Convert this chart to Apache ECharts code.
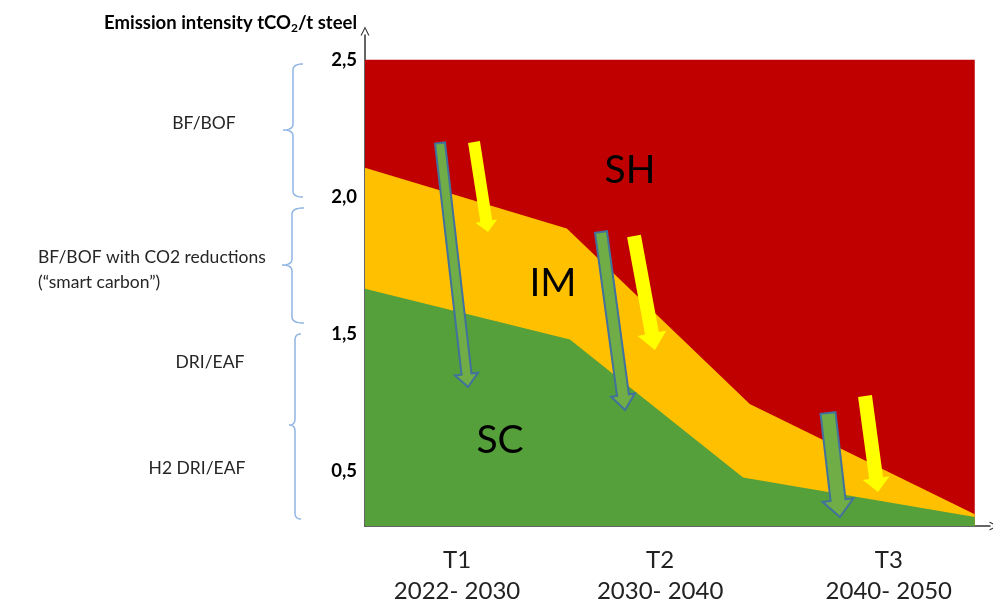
<!DOCTYPE html>
<html>
<head>
<meta charset="utf-8">
<script src="https://cdn.jsdelivr.net/npm/echarts@6/dist/echarts.min.js"></script>
<style>
  html, body { margin: 0; padding: 0; background: #fff; }
  #chart { width: 993px; height: 607px; }
</style>
</head>
<body>
<div id="chart"></div>
<script>
// Emission-intensity pathway bands (tCO2 per tonne of steel) over the three periods.
const xRed = [0, 100];
const yRed = [2.5, 2.5];
const xAmber = [0, 33.1, 63.1, 100];
const yAmber = [2.106, 1.885, 1.245, 0.843];
const xGreen = [0, 33.6, 62.0, 100];
const yGreen = [1.665, 1.48, 0.977, 0.833];

// Tick labels on the vertical axis
const yTickValues = [1.0, 1.5, 2.0, 2.5];
const yTickLabels = ['0,5', '1,5', '2,0', '2,5'];

// Period labels along the horizontal axis
const periodPositions = [15.1, 48.4, 85.9];
const periodNames = ['T1', 'T2', 'T3'];
const periodYears = ['2022- 2030', '2030- 2040', '2040- 2050'];

// Band names
const bandNames = ['SH', 'IM', 'SC'];

// Technology routes shown beside the vertical axis
const routeNames = ['BF/BOF', 'BF/BOF with CO2 reductions\n(\u201csmart carbon\u201d)', 'DRI/EAF', 'H2 DRI/EAF'];

const FONT = 'Lato, "Open Sans", sans-serif';

function pairs(xs, ys) { return xs.map((x, i) => [x, ys[i]]); }

function areaSeries(name, xs, ys, color) {
  return {
    name: name,
    type: 'line',
    data: pairs(xs, ys),
    symbol: 'none',
    silent: true,
    lineStyle: { width: 0 },
    areaStyle: { color: color, opacity: 1, origin: 'start' }
  };
}

// open chevron used as the axis arrow head (tip at top before rotation)
const chevron = 'path://M0,10 L5,0 L10,10 L8.6,10 L5,2.6 L1.4,10 Z';

const chart = echarts.init(document.getElementById('chart'), null, { renderer: 'canvas' });

chart.setOption({
  animation: false,
  backgroundColor: '#ffffff',
  textStyle: { fontFamily: FONT },
  title: {
    left: 99,
    top: 8,
    text: '{a|Emission intensity tCO}{s|2}{a|/t steel}',
    textStyle: {
      rich: {
        a: { fontFamily: FONT, fontWeight: 'bold', fontSize: 18.5, color: '#000' },
        s: { fontFamily: FONT, fontWeight: 'bold', fontSize: 12, color: '#000', padding: [9, 0, 0, 0] }
      }
    }
  },
  grid: { left: 365, right: 3, top: 35, bottom: 77 },
  xAxis: {
    type: 'value',
    min: 0,
    max: 102.5,
    splitLine: { show: false },
    axisTick: { show: false },
    axisLine: {
      show: true,
      lineStyle: { color: '#333', width: 1.5 },
      symbol: ['none', chevron],
      symbolSize: [14, 9],
      symbolOffset: [0, 4]
    },
    axisLabel: {
      customValues: periodPositions,
      margin: 19,
      lineHeight: 31,
      fontSize: 24,
      fontFamily: FONT,
      color: '#222',
      formatter: function (v) {
        const i = periodPositions.indexOf(v);
        return i < 0 ? '' : periodNames[i] + '\n' + periodYears[i];
      }
    }
  },
  yAxis: {
    type: 'value',
    min: 0.8,
    max: 2.59,
    splitLine: { show: false },
    axisTick: { show: false },
    axisLine: {
      show: true,
      lineStyle: { color: '#333', width: 1.5 },
      symbol: ['none', chevron],
      symbolSize: [14, 9],
      symbolOffset: [0, 4]
    },
    axisLabel: {
      customValues: yTickValues,
      margin: 8,
      fontSize: 18.5,
      fontWeight: 'bold',
      fontFamily: FONT,
      color: '#000',
      padding: [6, 0, 0, 0],
      formatter: function (v) {
        const i = yTickValues.indexOf(v);
        return i < 0 ? '' : yTickLabels[i];
      }
    }
  },
  series: [
    areaSeries('SH', xRed, yRed, '#C00000'),
    areaSeries('IM', xAmber, yAmber, '#FFC000'),
    areaSeries('SC', xGreen, yGreen, '#55A03A')
  ]
});

// ---- annotations: band names, transition arrows, route braces ----
function arrowPoints(x1, y1, x2, y2, w, hw, hl) {
  const dx = x2 - x1, dy = y2 - y1;
  const len = Math.sqrt(dx * dx + dy * dy);
  const ux = dx / len, uy = dy / len;
  const nx = -uy, ny = ux;
  const bx = x2 - ux * hl, by = y2 - uy * hl;
  return [
    [x1 + nx * w / 2, y1 + ny * w / 2],
    [bx + nx * w / 2, by + ny * w / 2],
    [bx + nx * hw / 2, by + ny * hw / 2],
    [x2, y2],
    [bx - nx * hw / 2, by - ny * hw / 2],
    [bx - nx * w / 2, by - ny * w / 2],
    [x1 - nx * w / 2, y1 - ny * w / 2]
  ];
}

// quadratic curve sampled into points
function quad(p0, c, p1, out) {
  for (let k = 1; k <= 8; k++) {
    const t = k / 8, u = 1 - t;
    out.push([u * u * p0[0] + 2 * u * t * c[0] + t * t * p1[0],
              u * u * p0[1] + 2 * u * t * c[1] + t * t * p1[1]]);
  }
}

function bracePoints(xEnd, xLine, xCusp, yTop, yCusp, yBot) {
  const r = 6;
  const pts = [[xEnd, yTop]];
  quad([xEnd, yTop], [xLine, yTop], [xLine, yTop + r], pts);
  pts.push([xLine, yCusp - r]);
  quad([xLine, yCusp - r], [xLine, yCusp], [xCusp, yCusp], pts);
  quad([xCusp, yCusp], [xLine, yCusp], [xLine, yCusp + r], pts);
  pts.push([xLine, yBot - r]);
  quad([xLine, yBot - r], [xLine, yBot], [xEnd, yBot], pts);
  return pts;
}

const greenArrows = [
  [440, 143, 468, 387, 10, 23, 13],
  [601, 232, 625, 410, 12, 24, 15],
  [828, 413, 840, 517, 15, 31, 17]
];
const yellowArrows = [
  [474, 142, 488, 232, 12, 22, 11],
  [634, 236, 655, 350, 14, 29, 17],
  [865, 396, 878, 492, 14, 27, 14]
];

const graphics = [];

[[630, 170], [553, 283], [500, 440]].forEach(function (p, i) {
  graphics.push({
    type: 'text', x: p[0], y: p[1], silent: true, z: 20,
    style: { text: bandNames[i], fontFamily: FONT, fontSize: 39, fill: '#000', align: 'center', verticalAlign: 'middle' }
  });
});

greenArrows.forEach(function (a) {
  graphics.push({
    type: 'polygon', silent: true, z: 20,
    shape: { points: arrowPoints.apply(null, a) },
    style: { fill: '#70AD47', stroke: '#41719C', lineWidth: 2 }
  });
});
yellowArrows.forEach(function (a) {
  graphics.push({
    type: 'polygon', silent: true, z: 20,
    shape: { points: arrowPoints.apply(null, a) },
    style: { fill: '#FFFF00' }
  });
});

[
  [303, 293, 283, 64, 130, 197],
  [304, 292, 282, 208, 265, 323],
  [301, 295, 289, 334, 425, 519]
].forEach(function (b) {
  graphics.push({
    type: 'polyline', silent: true, z: 20,
    shape: { points: bracePoints.apply(null, b) },
    style: { fill: null, stroke: '#8EB4E3', lineWidth: 1.5 }
  });
});

const routeLayout = [
  { x: 204, y: 123, align: 'center' },
  { x: 38, y: 270, align: 'left' },
  { x: 210, y: 362, align: 'center' },
  { x: 197, y: 468, align: 'center' }
];
routeLayout.forEach(function (p, i) {
  graphics.push({
    type: 'text', x: p.x, y: p.y, silent: true, z: 20,
    style: {
      text: routeNames[i], fontFamily: FONT, fontSize: 17.5, fill: '#262626',
      align: p.align, verticalAlign: 'middle', lineHeight: 25
    }
  });
});

chart.setOption({ graphic: { elements: graphics } });
</script>
</body>
</html>
